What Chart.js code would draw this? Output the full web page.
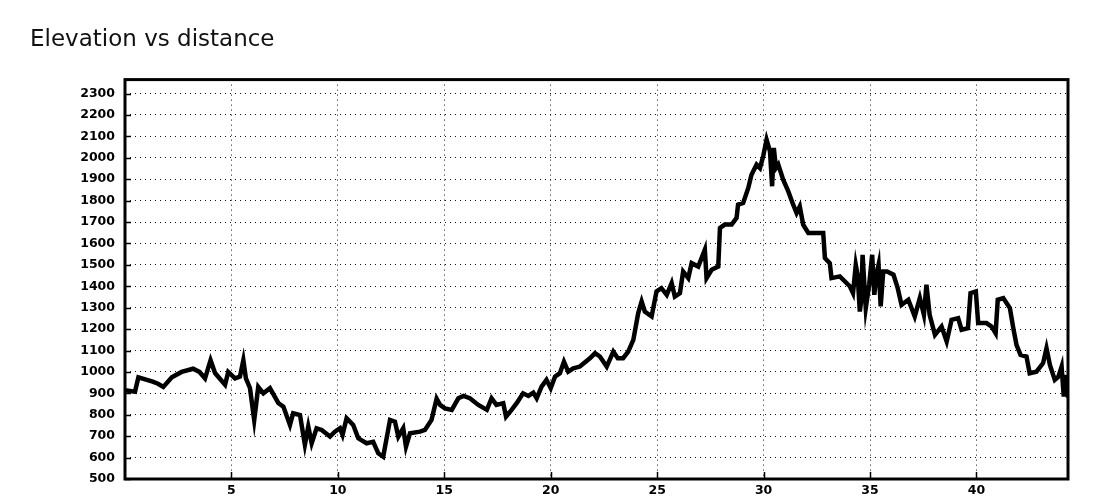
<!DOCTYPE html>
<html>
<head>
<meta charset="utf-8">
<title>Elevation vs distance</title>
<script src="https://cdn.jsdelivr.net/npm/chart.js@4/dist/chart.umd.min.js"></script>
<style>
    body { margin: 0; background: #fff; }
    #chart-container { position: relative; width: 1100px; height: 500px; }
</style>
</head>
<body>
<div id="chart-container"><canvas id="elevationChart"></canvas></div>
<script>
// distance along the route, km
const distanceKm = [
    0.0, 0.47, 0.63, 1.3, 1.55, 1.8, 2.2, 2.66, 3.2, 3.5,
    3.76, 4.02, 4.23, 4.7, 4.85, 5.17, 5.4, 5.56, 5.68, 5.87,
    6.07, 6.26, 6.5, 6.81, 7.2, 7.44, 7.75, 7.9, 8.22, 8.45,
    8.61, 8.77, 9.0, 9.24, 9.63, 9.86, 10.1, 10.22, 10.41, 10.72,
    10.96, 11.35, 11.66, 11.9, 12.13, 12.45, 12.68, 12.84, 13.07, 13.2,
    13.39, 13.86, 14.09, 14.4, 14.64, 14.8, 15.03, 15.35, 15.66, 15.9,
    16.2, 16.6, 17.0, 17.22, 17.45, 17.77, 17.9, 18.16, 18.4, 18.7,
    18.95, 19.18, 19.34, 19.57, 19.8, 20.0, 20.2, 20.43, 20.62, 20.82,
    21.06, 21.37, 21.84, 22.08, 22.31, 22.63, 22.94, 23.15, 23.4, 23.64,
    23.88, 24.11, 24.27, 24.42, 24.74, 24.97, 25.2, 25.45, 25.68, 25.83,
    26.07, 26.22, 26.46, 26.62, 26.93, 27.24, 27.32, 27.56, 27.87, 27.95,
    28.18, 28.5, 28.73, 28.8, 29.04, 29.28, 29.43, 29.67, 29.83, 29.98,
    30.14, 30.3, 30.4, 30.48, 30.58, 30.69, 30.92, 31.16, 31.39, 31.55,
    31.7, 31.86, 32.1, 32.8, 32.88, 33.11, 33.19, 33.58, 34.05, 34.2,
    34.33, 34.42, 34.52, 34.58, 34.65, 34.8, 34.96, 35.1, 35.2, 35.3,
    35.4, 35.5, 35.62, 35.8, 36.1, 36.3, 36.48, 36.8, 37.1, 37.34,
    37.53, 37.65, 37.8, 38.05, 38.36, 38.6, 38.83, 39.14, 39.3, 39.6,
    39.72, 39.97, 40.08, 40.47, 40.71, 40.9, 41.0, 41.26, 41.57, 41.73,
    41.88, 42.07, 42.35, 42.5, 42.82, 43.13, 43.29, 43.45, 43.68, 43.85,
    44.0, 44.1, 44.2, 44.3
];

// elevation, m
const elevationM = [
    915, 908, 975, 955, 945, 930, 975, 1000, 1015, 1000,
    970, 1055, 995, 940, 1000, 970, 978, 1055, 970, 925,
    775, 930, 900, 924, 855, 838, 752, 807, 799, 660,
    745, 667, 737, 729, 698, 721, 737, 706, 784, 752,
    690, 667, 674, 620, 604, 776, 768, 698, 737, 651,
    714, 721, 729, 776, 875, 846, 830, 823, 877, 888,
    877, 846, 823, 877, 846, 854, 791, 823, 854, 900,
    888, 903, 877, 931, 963, 924, 978, 994, 1048, 1001,
    1017, 1025, 1064, 1088, 1072, 1025, 1095, 1064, 1064, 1095,
    1150, 1275, 1329, 1282, 1259, 1376, 1391, 1360, 1415, 1352,
    1368, 1469, 1438, 1508, 1492, 1571, 1438, 1477, 1492, 1672,
    1688, 1688, 1719, 1781, 1789, 1859, 1921, 1968, 1952, 2007,
    2085, 2030, 1867, 2046, 1952, 1968, 1898, 1843, 1781, 1742,
    1773, 1688, 1649, 1649, 1532, 1508, 1438, 1446, 1400, 1368,
    1500, 1450, 1282, 1330, 1547, 1298, 1407, 1547, 1360, 1454,
    1500, 1306, 1469, 1469, 1454, 1391, 1313, 1337, 1259, 1345,
    1267, 1407, 1267, 1173, 1212, 1142, 1243, 1251, 1197, 1204,
    1368, 1376, 1228, 1228, 1212, 1181, 1337, 1345, 1298, 1204,
    1126, 1080, 1072, 994, 1001, 1041, 1111, 1033, 963, 978,
    1025, 885, 986, 880
];

// axis tick labels
const xTickValues = [5, 10, 15, 20, 25, 30, 35, 40];
const yTickValues = [500, 600, 700, 800, 900, 1000, 1100, 1200, 1300, 1400,
    1500, 1600, 1700, 1800, 1900, 2000, 2100, 2200, 2300];

document.addEventListener('DOMContentLoaded', function () {
    const ctx = document.getElementById('elevationChart').getContext('2d');

    const points = distanceKm.map((d, i) => ({ x: d, y: elevationM[i] }));

    // black frame + small tick marks pointing into the plot
    const framePlugin = {
        id: 'frame',
        afterDraw(chart) {
            const { ctx, chartArea, scales } = chart;
            ctx.save();
            ctx.strokeStyle = '#000';
            ctx.lineWidth = 1.5;
            ctx.beginPath();
            scales.y.ticks.forEach(t => {
                const y = Math.round(scales.y.getPixelForValue(t.value)) + 0.5;
                ctx.moveTo(chartArea.left, y);
                ctx.lineTo(chartArea.left + 6, y);
            });
            scales.x.ticks.forEach(t => {
                const x = Math.round(scales.x.getPixelForValue(t.value)) + 0.5;
                ctx.moveTo(x, chartArea.bottom);
                ctx.lineTo(x, chartArea.bottom - 7);
            });
            ctx.stroke();
            ctx.lineWidth = 3;
            ctx.strokeRect(chartArea.left, chartArea.top, chartArea.right - chartArea.left, chartArea.bottom - chartArea.top);
            ctx.restore();
        }
    };

    const tickFont = { family: "'DejaVu Sans', sans-serif", size: 12.5, weight: 'bold' };

    new Chart(ctx, {
        type: 'line',
        data: {
            datasets: [{
                label: 'Elevation',
                data: points,
                borderColor: '#000',
                borderWidth: 4.5,
                pointRadius: 0,
                tension: 0,
                fill: false
            }]
        },
        options: {
            responsive: true,
            maintainAspectRatio: false,
            animation: false,
            layout: {
                padding: { left: 30, right: 32, top: 0, bottom: 0 }
            },
            plugins: {
                legend: { display: false },
                tooltip: { enabled: false },
                title: {
                    display: true,
                    text: 'Elevation vs distance',
                    align: 'start',
                    color: '#111',
                    font: { family: "'DejaVu Sans', sans-serif", size: 23, weight: 'normal' },
                    padding: { top: 26, bottom: 26 }
                }
            },
            scales: {
                x: {
                    type: 'linear',
                    min: 0,
                    max: 44.3,
                    afterBuildTicks: scale => {
                        scale.ticks = xTickValues.map(v => ({ value: v }));
                    },
                    afterFit: scale => { scale.height = 21; },
                    border: { display: false, dash: [1, 4] },
                    grid: { color: '#111', lineWidth: 1, drawTicks: false },
                    ticks: { color: '#000', font: tickFont, padding: 4, maxRotation: 0, callback: v => String(v) }
                },
                y: {
                    min: 500,
                    max: 2365,
                    afterBuildTicks: scale => {
                        scale.ticks = yTickValues.map(v => ({ value: v }));
                    },
                    afterFit: scale => { scale.width = 95; },
                    border: { display: false, dash: [1, 4] },
                    grid: { color: '#111', lineWidth: 1, drawTicks: false },
                    ticks: { color: '#000', font: tickFont, padding: 10, callback: v => String(v) }
                }
            }
        },
        plugins: [framePlugin]
    });
});
</script>
</body>
</html>
